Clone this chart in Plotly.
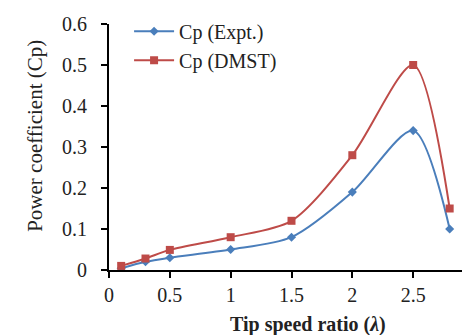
import plotly.graph_objects as go

tsr = [0.1, 0.3, 0.5, 1.0, 1.5, 2.0, 2.5, 2.8]
cp_expt = [0.004, 0.02, 0.03, 0.05, 0.08, 0.19, 0.34, 0.10]
cp_dmst = [0.01, 0.028, 0.049, 0.08, 0.12, 0.28, 0.50, 0.15]
x_ticks = [0, 0.5, 1, 1.5, 2, 2.5, 3]
x_labels = ["0", "0.5", "1", "1.5", "2", "2.5", "3"]
y_ticks = [0, 0.1, 0.2, 0.3, 0.4, 0.5, 0.6]
y_labels = ["0", "0.1", "0.2", "0.3", "0.4", "0.5", "0.6"]

font = "Liberation Serif, Times New Roman, serif"
fig = go.Figure()
fig.add_trace(go.Scatter(x=tsr, y=cp_expt, name="Cp (Expt.)", mode="lines+markers",
                         line=dict(color="#4a7ebb", width=2, shape="spline", smoothing=0.8),
                         marker=dict(symbol="diamond", size=7, color="#4a7ebb")))
fig.add_trace(go.Scatter(x=tsr, y=cp_dmst, name="Cp (DMST)", mode="lines+markers",
                         line=dict(color="#be4b48", width=2, shape="spline", smoothing=0.8),
                         marker=dict(symbol="square", size=8, color="#be4b48")))
fig.update_layout(
    width=470, height=335,
    margin=dict(l=101, r=4, t=16, b=73),
    paper_bgcolor="white", plot_bgcolor="white",
    font=dict(family=font, size=20, color="#222"),
    showlegend=True,
    legend=dict(x=0.055, y=1.05, xanchor="left", yanchor="top", bgcolor="rgba(0,0,0,0)",
                font=dict(family=font, size=20), tracegroupgap=0, itemwidth=40),
    xaxis=dict(range=[0, 3], tickvals=x_ticks, ticktext=x_labels, showgrid=False, zeroline=False,
               showline=True, linecolor="black", linewidth=2, ticks="outside", ticklen=6,
               tickwidth=2, tickcolor="black", automargin=False, ticklabeloverflow="allow",
               ticklabelstandoff=0,
               tickfont=dict(family=font, size=20)),
    yaxis=dict(range=[0, 0.6], tickvals=y_ticks, ticktext=y_labels, showgrid=False, zeroline=False,
               showline=True, linecolor="black", linewidth=2, ticks="outside", ticklen=6,
               tickwidth=2, tickcolor="black", automargin=False, ticklabeloverflow="allow",
               ticklabelstandoff=10,
               tickfont=dict(family=font, size=20)),
    annotations=[
        dict(text="<b>Tip speed ratio (<i>λ</i>)</b>", xref="paper", yref="paper",
             x=0.545, y=-0.22, xanchor="center", yanchor="middle", showarrow=False,
             font=dict(family=font, size=20, color="#222")),
        dict(text="Power coefficient (Cp)", xref="paper", yref="paper", textangle=-90,
             x=-0.203, y=0.545, xanchor="center", yanchor="middle", showarrow=False,
             font=dict(family=font, size=21, color="#222")),
    ],
)
fig.write_html("out.html")
